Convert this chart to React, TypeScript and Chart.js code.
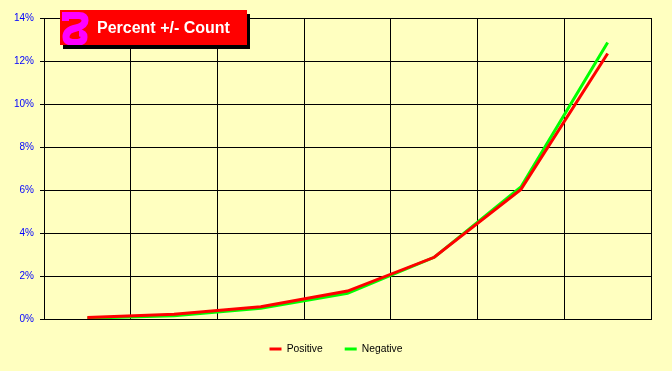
import React, { useEffect, useRef } from 'react';
import { Chart, registerables } from 'chart.js';

Chart.register(...registerables);

const categories = ['7', '6', '5', '4', '3', '2', '1'];
const positiveValues = [0.07, 0.22, 0.57, 1.3, 2.87, 6.03, 12.35];
const negativeValues = [0.04, 0.15, 0.5, 1.2, 2.87, 6.14, 12.86];
const yTickValues = [0, 2, 4, 6, 8, 10, 12, 14];
const seriesNames = ['Positive', 'Negative'];
const titleText = 'Percent +/- Count';

const FONT = "'Liberation Sans', Arial, sans-serif";
const BG = '#FFFFC0';

export default function App() {
  const ref = useRef<HTMLCanvasElement>(null);

  useEffect(() => {
    const chart = new Chart(ref.current as HTMLCanvasElement, {
      type: 'line',
      data: {
        labels: categories,
        datasets: [
          {
            label: seriesNames[0],
            data: positiveValues,
            borderColor: '#FF0000',
            backgroundColor: '#FF0000',
            borderWidth: 3,
            pointRadius: 0,
            pointHoverRadius: 0,
            tension: 0,
            fill: false,
          },
          {
            label: seriesNames[1],
            data: negativeValues,
            borderColor: '#00FF00',
            backgroundColor: '#00FF00',
            borderWidth: 3,
            pointRadius: 0,
            pointHoverRadius: 0,
            tension: 0,
            fill: false,
          },
        ],
      },
      options: {
        responsive: false,
        animation: false,
        devicePixelRatio: 1,
        layout: { padding: { left: 0, right: 0, top: 18, bottom: 6.85 } },
        plugins: {
          tooltip: { enabled: false },
          title: { display: false },
          legend: {
            position: 'bottom',
            labels: {
              font: { family: FONT, size: 10.3 },
              color: '#000000',
              boxWidth: 12,
              boxHeight: 3,
              padding: 22,
              generateLabels: (c: any) =>
                (Chart.defaults.plugins.legend.labels as any)
                  .generateLabels(c)
                  .map((l: any) => ({ ...l, lineWidth: 0, fillStyle: l.strokeStyle })),
            },
          },
        },
        scales: {
          x: {
            type: 'category',
            offset: true,
            grid: { offset: true, color: '#000000', lineWidth: 1, drawTicks: false },
            border: { color: '#000000', width: 1 },
            ticks: {
              color: '#0000FF',
              font: { family: FONT, size: 10 },
              padding: 7,
              maxRotation: 0,
              autoSkip: false,
            },
            afterFit: (s: any) => {
              s.height = 2.85;
            },
          },
          y: {
            type: 'linear',
            min: 0,
            max: 14,
            afterBuildTicks: (s: any) => {
              s.ticks = yTickValues.map((v) => ({ value: v }));
            },
            grid: { color: '#000000', lineWidth: 1, drawTicks: true, tickLength: 4 },
            border: { color: '#000000', width: 1 },
            ticks: {
              color: '#0000FF',
              font: { family: FONT, size: 10 },
              padding: 6,
              callback: (v: any) => v + '%',
            },
            afterFit: (s: any) => {
              s.width = 44;
            },
          },
          yr: {
            type: 'linear',
            position: 'right',
            display: true,
            grid: { display: false },
            ticks: { display: false },
            border: { display: false },
            afterFit: (s: any) => {
              s.width = 21;
            },
          },
        },
      } as any,
    });
    return () => chart.destroy();
  }, []);

  return (
    <div
      style={{
        position: 'absolute',
        left: 0,
        top: 0,
        width: 672,
        height: 371,
        background: BG,
        overflow: 'hidden',
      }}
    >
      <canvas
        ref={ref}
        width={672}
        height={371}
        style={{ position: 'absolute', left: 0, top: 0, width: 672, height: 371 }}
      />
      <div
        style={{
          position: 'absolute',
          left: 60,
          top: 10,
          width: 187,
          height: 35,
          background: '#FF0000',
          boxShadow: '3px 4px 0 #000000',
        }}
      >
        <svg
          width={30}
          height={35}
          viewBox="0 0 30 35"
          style={{ position: 'absolute', left: 0, top: 0 }}
        >
          <path
            d="M2 5.5 H19 Q25 5.5 25 10.5 Q25 16 16 18 Q6 20 6 27 Q6 32.5 15 32.5 Q24 32.5 24 27 Q24 23 19 23"
            fill="none"
            stroke="#FF00FF"
            strokeWidth={7}
          />
          <rect x={2} y={2} width={7} height={9} fill="#FF00FF" />
        </svg>
        <span
          style={{
            position: 'absolute',
            left: 37,
            top: 0,
            height: 35,
            lineHeight: '35px',
            color: '#FFFFFF',
            fontFamily: FONT,
            fontWeight: 'bold',
            fontSize: 16,
            whiteSpace: 'nowrap',
          }}
        >
          {titleText}
        </span>
      </div>
    </div>
  );
}
